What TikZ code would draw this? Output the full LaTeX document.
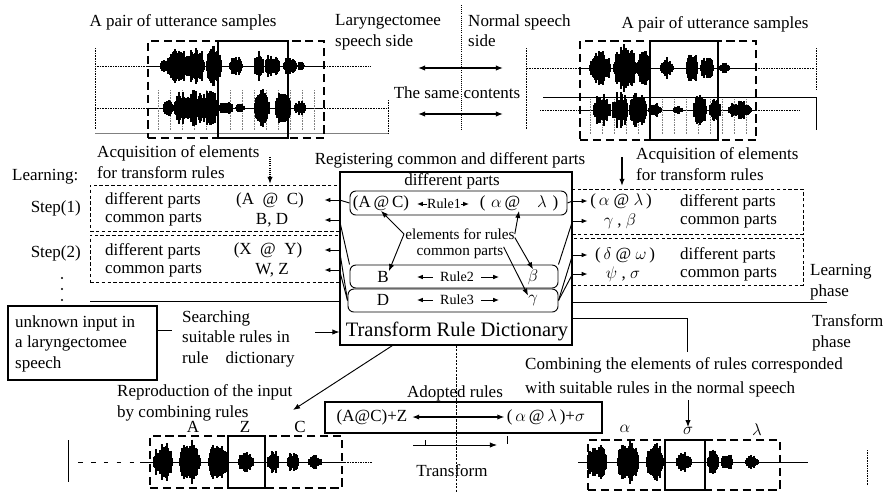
\documentclass[tikz,border=0pt]{standalone}
\usepackage{fontspec}
\setmainfont{Liberation Serif}
\usepackage{tikz}
\usetikzlibrary{arrows.meta,positioning,fit,calc}

\newcommand\wavefill[3]{%
  \foreach \bx/\bw/\bh in {#3}{%
    \pgfmathtruncatemacro\nn{2*\bw+2}%
    \foreach \i in {0,...,\nn}{%
      \pgfmathsetmacro\hh{\bh*(max(0,1-((\i-\bw-1)/(\bw+1.5))^2))^0.45*(0.55+0.65*rnd)}%
      \draw[line width=1.2pt] ({#1+\bx+\i-\bw-1},{#2-\hh}) -- ({#1+\bx+\i-\bw-1},{#2+\hh});
    }%
  }%
}

\begin{document}
\begin{tikzpicture}[x=0.03cm,y=-0.03cm,
  lbl/.style={font=\fontsize{14.5}{17.9}\selectfont, inner sep=0pt, align=left},
  small/.style={font=\fontsize{12}{14}\selectfont, inner sep=0pt},
  inner/.style={font=\fontsize{13}{16}\selectfont, inner sep=0pt},
  stepbox/.style={draw, dash pattern=on 3pt off 2pt, line width=0.7pt, inner sep=0pt},
  rulebox/.style={draw, rounded corners=5pt, line width=0.8pt, inner sep=0pt},
  wbox/.style={draw, line width=1.6pt, inner sep=0pt},
  wdash/.style={draw, line width=1.8pt, dash pattern=on 7pt off 4pt, inner sep=0pt},
  arr/.style={-{Latex[length=6pt,width=4.5pt]}, line width=0.8pt},
  darr/.style={{Latex[length=6pt,width=4.5pt]}-{Latex[length=6pt,width=4.5pt]}, line width=1pt},
  tip/.style={-{Latex[length=5pt,width=4pt]}, line width=0.8pt},
  ln/.style={line width=0.8pt}
]
\useasboundingbox (0,0) rectangle (883,493);
\pgfmathsetseed{11}

\node[lbl] (pairl) at (183,22) {A pair of utterance samples};
\node[lbl] (pairr) at (715,24) {A pair of utterance samples};
\node[lbl, anchor=north west] (larside) at (335,14) {Laryngectomee\\speech side};
\node[lbl, anchor=north west] (norside) at (468,14) {Normal speech\\side};
\node[lbl] (same) at (457,93) {The same contents};
\draw[ln, densely dotted] (461,5) -- (461,130);
\coordinate (sa1) at (418,68); \coordinate (sb1) at (503,68);
\coordinate (sa2) at (418,114); \coordinate (sb2) at (503,114);
\draw[darr] (sa1) -- (sb1);
\draw[darr] (sa2) -- (sb2);

\draw[densely dotted] (95,48) -- (95,130);
\draw[densely dotted] (95,66) -- (148,66);
\draw[ln] (148,66) -- (322,66);
\draw[densely dotted] (322,66) -- (370,66);
\draw[densely dotted] (95,108) -- (148,108);
\draw[ln] (148,108) -- (322,108);
\draw[densely dotted] (322,108) -- (388,108);
\draw[gray] (95,133) -- (388,133);
\draw[densely dotted] (388,100) -- (388,133);
\foreach \gx in {158,170,...,318} \draw[densely dotted, gray] (\gx,90) -- (\gx,131);
\wavefill{148}{66}{17/3/6, 30/10/15, 47/8/19, 66/6/19, 88/5/9, 111/3/14, 122/3/11, 128/2/11, 142/5/8, 153/2/4}
\wavefill{148}{108}{20/3/7, 33/6/15, 47/7/17, 61/7/17, 78/5/7, 92/3/4, 114/6/16, 135/6/16, 152/4/7}
\node[wdash, fit={(148,41) (324,138)}] (wl) {};
\node[wbox, fit={(218,41) (288,138)}] (wlz) {};

\draw[densely dotted] (526,48) -- (526,130);
\draw[densely dotted] (527,68) -- (580,68);
\draw[ln] (580,68) -- (756,68);
\draw[densely dotted] (756,68) -- (815,68);
\draw[ln] (543,97) -- (816,97) -- (816,130);
\draw[densely dotted] (816,48) -- (816,90);
\draw[densely dotted] (540,110) -- (580,110);
\draw[ln] (580,110) -- (756,110);
\draw[densely dotted] (756,110) -- (800,110);
\foreach \gx in {590,602,...,750} \draw[densely dotted, gray] (\gx,99) -- (\gx,134);
\wavefill{580}{68}{20/9/15, 45/10/20, 64/5/17, 87/5/9, 112/4/15, 127/5/11, 144/4/5}
\wavefill{580}{110}{22/7/14, 40/6/16, 58/7/15, 75/5/6, 98/3/4, 120/5/15, 135/4/11, 160/10/8}
\node[wdash, fit={(580,41) (756,140)}] (wr) {};
\node[wbox, fit={(650,41) (718,140)}] (wrz) {};

\node[lbl, anchor=west] (learn) at (12,177) {Learning:};
\node[lbl, anchor=east] (step1) at (81,208) {Step(1)};
\node[lbl, anchor=east] (step2) at (81,253) {Step(2)};
\foreach \dy in {278,289,300} \fill (62,\dy) circle (1.1);

\node[lbl, anchor=north west] (acql) at (97,145) {Acquisition of elements\\for transform rules};
\node[lbl, anchor=north west] (acqr) at (636,147) {Acquisition of elements\\for transform rules};
\coordinate (acqla) at (270,157); \coordinate (acqlb) at (270,184);
\coordinate (acqra) at (622,157); \coordinate (acqrb) at (622,186);
\draw[arr, densely dotted, line width=1.3pt] (acqla) -- (acqlb);
\draw[arr, line width=1.3pt] (acqra) -- (acqrb);

\node[stepbox, fit={(90,185) (340,231)}] (s1l) {};
\node[stepbox, fit={(90,235) (340,282)}] (s2l) {};
\node[stepbox, fit={(572,189) (803,234)}] (s1r) {};
\node[stepbox, fit={(572,238) (803,285)}] (s2r) {};

\node[lbl, anchor=west] (d1l) at (105,200) {different parts};
\node[lbl, anchor=west] (c1l) at (105,220) {common parts};
\node[lbl, anchor=west] (d2l) at (105,251) {different parts};
\node[lbl, anchor=west] (c2l) at (105,271) {common parts};
\node[lbl] (e1l) at (270,200) {(A\enspace@\enspace C)};
\node[lbl] (e1lc) at (272,220) {B, D};
\node[lbl] (e2l) at (268,250) {(X\enspace@\enspace Y)};
\node[lbl] (e2lc) at (272,270) {W, Z};

\node[lbl, anchor=west] (d1r) at (680,202) {different parts};
\node[lbl, anchor=west] (c1r) at (680,222) {common parts};
\node[lbl, anchor=west] (d2r) at (680,255) {different parts};
\node[lbl, anchor=west] (c2r) at (680,275) {common parts};
\node[lbl] (e1r) at (621,201) {(\,$\alpha$\ @\ $\lambda$\,)};
\node[lbl] (e1rc) at (620,221) {$\gamma$\ ,\ $\beta$};
\node[lbl] (e2r) at (625,255) {(\,$\delta$\ @\ $\omega$\,)};
\node[lbl] (e2rc) at (623,274) {$\psi$\ ,\ $\sigma$};

\node[draw, line width=0.9pt, fill=white, fit={(340,172) (572,345)}, inner sep=0pt] (dict) {};
\node[lbl] (reg) at (450,160) {Registering common and different parts};
\node[lbl] (diffp) at (452,181) {different parts};

\node[rulebox, fit={(350,191) (567,215)}] (r1) {};
\node[lbl] (r1a) at (381,203) {(A\,@\,C)};
\node[small] (r1n) at (444,204) {Rule1};
\node[lbl] (r1b) at (519,203) {(\,\,$\alpha$\,@\quad$\lambda$\,\,)};
\draw[tip] (r1n.west) -- ++(-10,0);
\draw[tip] (r1n.east) -- ++(8,0);

\node[rulebox, fit={(350,265) (558,288)}] (r2) {};
\node[lbl] (r2a) at (383,277) {B};
\node[small] (r2n) at (457,277) {Rule2};
\node[lbl] (r2b) at (533,277) {$\beta$};
\draw[tip] ([xshift=-6pt]r2n.west) -- ++(-16,0);
\draw[tip] ([xshift=6pt]r2n.east) -- ++(18,0);

\node[rulebox, fit={(348,289) (558,312)}] (r3) {};
\node[lbl] (r3a) at (383,300) {D};
\node[small] (r3n) at (457,300) {Rule3};
\node[lbl] (r3b) at (533,301) {$\gamma$};
\draw[tip] ([xshift=-6pt]r3n.west) -- ++(-16,0);
\draw[tip] ([xshift=6pt]r3n.east) -- ++(18,0);

\node[inner] (elem) at (460,234) {elements for rules};
\node[inner] (comp) at (460,253) {common parts};
\node[font=\fontsize{17.5}{20}\selectfont, inner sep=0pt] (dictn) at (457,331) {Transform Rule Dictionary};

\draw[arr] ([xshift=-1pt]elem.west) -- (r1a.south);
\draw[arr] ([xshift=-1pt]elem.west) -- (r2a.north east);
\draw[arr] (elem.east) -- (r1b.south);
\draw[arr] ([yshift=-3pt]elem.east) -- (r2b.north);
\draw[arr] (comp.north east) -- (r3b.north west);

\coordinate (ld1) at (dict.west |- e1l);
\coordinate (ld2) at (dict.west |- e1lc);
\coordinate (ld3) at (dict.west |- e2l);
\coordinate (ld4) at (dict.west |- e2lc);
\coordinate (rd1) at (dict.east |- e1r);
\coordinate (rd2) at (dict.east |- e1rc);
\coordinate (rd3) at (dict.east |- e2r);
\coordinate (rd4) at (dict.east |- e2rc);
\draw[ln] (r1.west) -- (ld1);
\draw[ln] (r2.north west) -- (ld2);
\draw[ln] (r3.west) -- (ld3);
\draw[ln] (r3.west) -- (ld4);
\draw[ln] (r1.east) -- (rd1);
\draw[ln] (r2.north east) -- (rd2);
\draw[ln] (r3.east) -- (rd3);
\draw[ln] (r3.east) -- (rd4);
\foreach \p in {ld1,ld2,ld3,ld4} \draw[tip] (\p) -- ++(-15,0);
\foreach \p in {rd1,rd2,rd3,rd4} \draw[tip] (\p) -- ++(15,0);

\coordinate (sepl) at (90,301);
\coordinate (sepr) at (827,302);
\draw[ln] (sepl) -- (dict.west |- sepl);
\draw[ln] (dict.east |- sepr) -- (sepr);
\node[lbl, anchor=north west] (lphase) at (810,264) {Learning\\phase};
\node[lbl, anchor=north west] (tphase) at (812,314) {Transform\\phase};
\coordinate (tb) at (687,318);
\coordinate (cbk) at (687,352);
\draw[ln] (dict.east |- tb) -- (tb) -- (cbk);

\node[draw, line width=1.3pt, fit={(8,306) (157,380)}, inner sep=0pt] (unk) {};
\node[lbl, anchor=north west] (unkt) at (15,315) {unknown input in\\a laryngectomee\\speech};
\node[lbl, anchor=north west] (search) at (182,310) {Searching\\suitable rules in\\rule\quad dictionary};
\coordinate (unkr) at (172,330);
\draw[ln] (unk.east |- unkr) -- (unkr);
\coordinate (srch) at (315,332);
\draw[arr] (srch) -- (dict.west |- srch);

\coordinate (rep) at (293,410);
\draw[arr] ($(dict.south west)+(53,0)$) -- (rep);
\node[lbl, anchor=north west] (repro) at (117,384) {Reproduction of the input\\by combining rules};

\draw[ln] (68,440) -- (68,482);
\draw[dash pattern=on 4pt off 7pt] (78,462) -- (140,462);
\draw[ln] (140,462) -- (345,462);
\draw[densely dotted] (345,462) -- (372,462);
\wavefill{150}{462}{13/8/17, 40/9/19, 68/8/17, 96/6/9, 123/4/11, 143/4/9, 165/5/6}
\node[wdash, fit={(150,436) (342,488)}] (wbl) {};
\node[wbox, fit={(228,436) (265,488)}] (wblz) {};
\node[lbl] (la) at (193,427) {A};
\node[lbl] (lz) at (245,427) {Z};
\node[lbl] (lc) at (300,427) {C};

\node[lbl] (adopt) at (455,393) {Adopted rules};
\node[draw, line width=0.9pt, fit={(325,402) (602,433)}, inner sep=0pt] (adbox) {};
\draw[ln, dash pattern=on 2pt off 1pt] (dict.south) -- (456,492);
\node[lbl] (ada) at (372,417) {(A@C)+Z};
\node[lbl] (adb) at (546,417) {(\,$\alpha$\,@\,$\lambda$\,)+$\sigma$};
\draw[darr, shorten <=4pt, shorten >=2pt] (ada.east) -- (adb.west);
\coordinate (tra) at (413,445); \coordinate (trb) at (497,445);
\draw[arr] (tra) -- (trb);
\draw[ln] (425,440) -- (425,445);
\draw[ln] (507,436) -- (507,444);
\node[lbl] (trans) at (452,471) {Transform};

\node[lbl, anchor=north west, font=\fontsize{14.5}{20.4}\selectfont] (comb) at (525,357) {Combining the elements of rules corresponded\\with suitable rules in the normal speech};
\node[lbl] (ra) at (625,429) {$\alpha$};
\node[lbl] (rs) at (688,431) {$\sigma$};
\node[lbl] (rl) at (757,430) {$\lambda$};
\coordinate (cba) at (688,400);
\draw[arr] (cba) -- (rs.north);

\draw[ln] (578,462) -- (808,462);
\wavefill{588}{462}{9/8/17, 40/9/19, 67/7/17, 96/6/9, 125/4/11, 139/4/9, 164/5/6}
\node[wdash, fit={(588,440) (780,490)}] (wbr) {};
\node[wbox, fit={(665,440) (705,490)}] (wbrz) {};
\draw[densely dotted] (867,450) -- (867,485);
\end{tikzpicture}
\end{document}
